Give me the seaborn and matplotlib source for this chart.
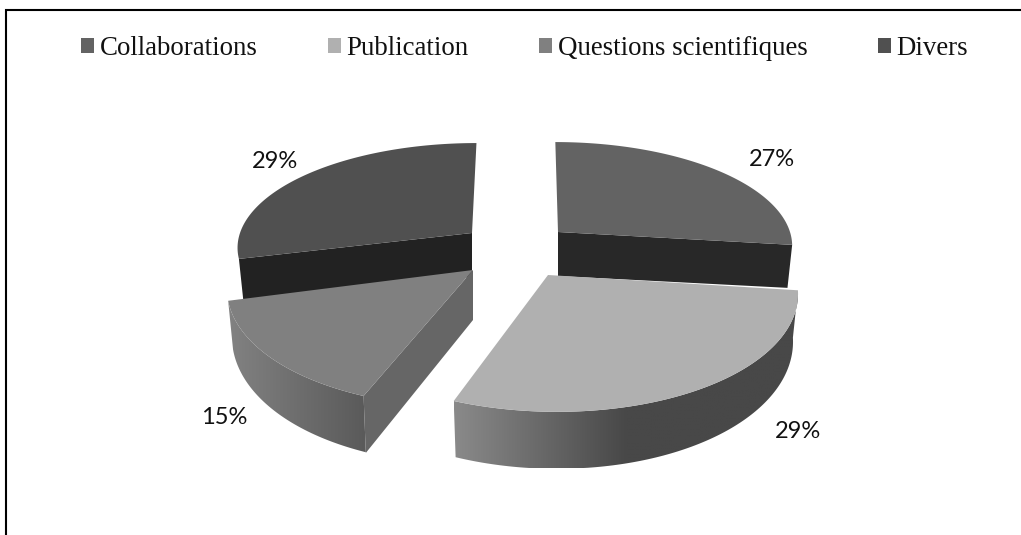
import numpy as np
import matplotlib
matplotlib.use("Agg")
import matplotlib.pyplot as plt
from matplotlib.patches import Patch, Polygon
import seaborn as sns

# Survey shares
categories = ["Collaborations", "Publication", "Questions scientifiques", "Divers"]
shares = [27, 29, 15, 29]

top_colors = ["#636363", "#b0b0b0", "#808080", "#505050"]
cut_colors = ["#282828", None, "#666666", "#222222"]
rim_stops = [None, ["#8a8a8a", "#484848", "#484848"], ["#828282", "#5a5a5a"], None]

# Projected geometry of each exploded slice: apex, radii, lean of the far side
apex = [(558, 232), (548, 275), (473, 270), (472, 233)]
radii = [(232, 101), (247, 120), (243, 120), (232, 101)]
lean = [-3, -8, 8, 5]
# Which boundary of the slice shows its flat cut face (0 = start, 1 = end)
cut_edge = [1, None, 0, 0]
cut_drop = [(44, 43), None, (50, 57), (44, 44)]
label_xy = [(772, 159), (798, 432), (224, 417), (275, 161)]
DEPTH = 0.123
WALL_MID, WALL_SWING = 46, 11
BASE_SHRINK = 0.98
FLOOR_Y = 468

sns.set_theme(style="white")

fig = plt.figure(figsize=(10.21, 5.35), dpi=100, facecolor="white")
ax = fig.add_axes([0, 0, 1, 1])


def rim_point(i, theta):
    """Screen position of the rim of slice i at clockwise angle theta (radians)."""
    (ax0, ay0), (rx, ry) = apex[i], radii[i]
    w = 1 + DEPTH * np.cos(theta)
    return (ax0 + (rx * np.sin(theta) + lean[i] * np.cos(theta)) / w,
            ay0 - ry * np.cos(theta) / w)


def base_x(i, x):
    """Lower edges draw in slightly towards the apex column."""
    return apex[i][0] + (x - apex[i][0]) * BASE_SHRINK


edges = np.radians(np.concatenate([[0], np.cumsum(shares)]) * 3.6)
draw_order = [3, 0, 2, 1]

for rank, i in enumerate(draw_order):
    z = 2 + rank * 3
    angles = np.linspace(edges[i], edges[i + 1], 120)
    xs, ys = rim_point(i, angles)

    # Curved outer wall, shaded from left to right
    if rim_stops[i] is not None:
        drop = WALL_MID - WALL_SWING * np.cos(angles)
        outline = np.vstack([np.column_stack([xs, ys]),
                             np.column_stack([base_x(i, xs), ys + drop])[::-1]])
        outline[:, 1] = np.minimum(outline[:, 1], FLOOR_Y)
        wall = Polygon(outline, closed=True, transform=ax.transData,
                       facecolor="none", edgecolor="none")
        ax.add_patch(wall)
        cmap = sns.blend_palette(rim_stops[i], as_cmap=True)
        ramp = np.linspace(0, 1, 256)[None, :]
        im = ax.imshow(ramp, cmap=cmap, aspect="auto", zorder=z, interpolation="bilinear",
                       extent=(outline[:, 0].min(), outline[:, 0].max(),
                               outline[:, 1].max(), outline[:, 1].min()))
        im.set_clip_path(wall)

    # Flat face exposed by the explosion
    if cut_colors[i] is not None:
        cx, cy = rim_point(i, edges[i + cut_edge[i]])
        a_drop, c_drop = cut_drop[i]
        ax0, ay0 = apex[i]
        ax.add_patch(Polygon([(ax0, ay0), (cx, cy), (base_x(i, cx), cy + c_drop), (ax0, ay0 + a_drop)],
                             closed=True, facecolor=cut_colors[i], edgecolor="none", zorder=z + 1))

    # Top face
    top = np.vstack([[apex[i]], np.column_stack([xs, ys])])
    ax.add_patch(Polygon(top, closed=True, facecolor=top_colors[i],
                         edgecolor="none", zorder=z + 2))

# Percentage labels
for value, (lx, ly) in zip(shares, label_xy):
    ax.text(lx, ly, f"{value}%", family="Lato", fontsize=17, color="#111111",
            ha="center", va="center", zorder=40)

# Frame: only the top and left rules are present
ax.plot([6, 6, 1021], [535, 10, 10], color="black", lw=1.5, zorder=50,
        solid_joinstyle="miter")

ax.set_xlim(0, 1021)
ax.set_ylim(535, 0)
ax.axis("off")

handles = [Patch(facecolor=c, edgecolor="none", label=n) for c, n in zip(top_colors, categories)]
ax.legend(handles=handles, ncol=4, frameon=False, loc="upper left",
          bbox_to_anchor=(81, 36), bbox_transform=ax.transData,
          prop={"family": "Liberation Serif", "size": 19.4},
          labelcolor="#111111", borderpad=0, borderaxespad=0,
          handlelength=0.5, handleheight=0.5, handletextpad=0.2, columnspacing=2.6)

fig.savefig("out.png", dpi=100, facecolor="white")
